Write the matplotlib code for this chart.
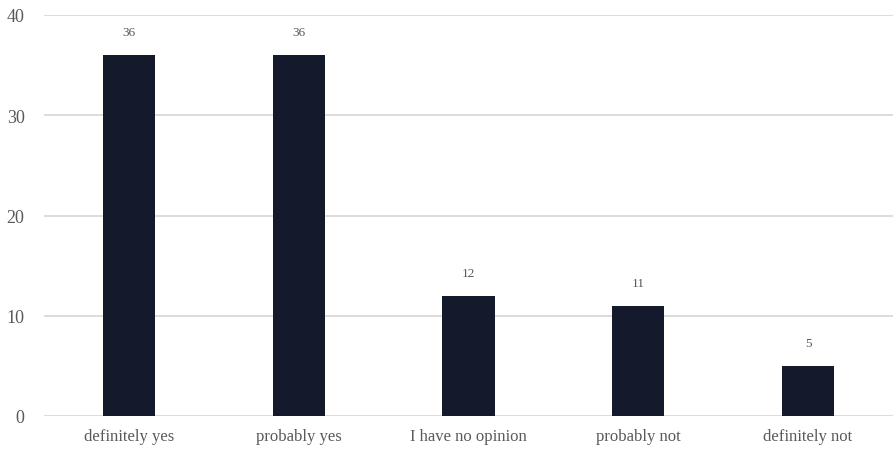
import matplotlib.pyplot as plt

categories = ['definitely yes', 'probably yes', 'I have no opinion', 'probably not', 'definitely not']
values = [36, 36, 12, 11, 5]
yticks = [0, 10, 20, 30, 40]

plt.rcParams['font.family'] = ['Liberation Serif', 'DejaVu Serif']

fig = plt.figure(figsize=(8.93, 4.56), dpi=100)
ax = fig.add_axes([44 / 893, 1 - 417 / 456, 1 - 44 / 893, (417 - 16) / 456])

x = range(len(categories))
bars = ax.bar(x, values, width=0.307, color='#141a2b', zorder=3)
for xi, v in zip(x, values):
    ax.annotate(str(v), (xi, v), xytext=(0, 12), textcoords='offset points',
                ha='center', va='bottom', fontsize=9.5, color='#595959')

ax.set_xlim(-0.5, len(categories) - 0.5)
ax.set_ylim(0, 40)
ax.set_yticks(yticks)
ax.set_xticks(list(x))
ax.set_xticklabels(categories)
ax.grid(axis='y', color='#d9d9d9', linewidth=1.3, zorder=0)
ax.set_axisbelow(True)
for s in ax.spines.values():
    s.set_visible(False)
ax.tick_params(axis='both', length=0, colors='#595959', labelsize=12)
ax.tick_params(axis='y', pad=14, labelsize=13)
ax.tick_params(axis='x', pad=9)

fig.savefig('out.png', dpi=100)
